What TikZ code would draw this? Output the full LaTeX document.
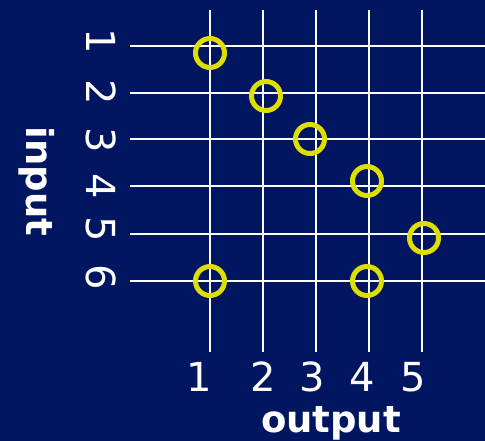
\documentclass[tikz,border=0pt]{standalone}
\usepackage{fontspec}
\setmainfont{DejaVu Sans}
\definecolor{bgnavy}{RGB}{0,22,96}
\definecolor{ringyellow}{RGB}{222,222,0}
\tikzset{
  gridline/.style={white, line width=2pt},
  ring/.style={circle, draw=ringyellow, line width=5pt, minimum size=29pt, inner sep=0pt},
  digit/.style={white, font=\fontsize{40}{40}\selectfont, inner sep=0pt},
  axislabel/.style={white, font=\fontsize{37}{37}\selectfont\bfseries, inner sep=0pt},
}
\begin{document}
\begin{tikzpicture}[x=1pt,y=-1pt]
\fill[bgnavy] (0,0) rectangle (485,441);
\useasboundingbox (0,0) rectangle (485,441);
% horizontal grid lines
\foreach \yy in {46.5,93,139.5,186.5,233.5,280.5}
  \draw[gridline] (130,\yy) -- (485,\yy);
% vertical grid lines
\foreach \xx in {209.5,263,316,369,422}
  \draw[gridline] (\xx,10) -- (\xx,352);
% rings
\node[ring] (c1) at (210,53) {};
\node[ring] (c2) at (266,96) {};
\node[ring] (c3) at (310,139) {};
\node[ring] (c4) at (367,181) {};
\node[ring] (c5) at (424,238) {};
\node[ring] (c6) at (210,281) {};
\node[ring] (c7) at (367,281) {};
% input numbers
\node[digit, rotate=-90] (i1) at (101,41) {1};
\node[digit, rotate=-90] (i2) at (101,92) {2};
\node[digit, rotate=-90] (i3) at (101,140) {3};
\node[digit, rotate=-90] (i4) at (101,186) {4};
\node[digit, rotate=-90] (i5) at (101,229) {5};
\node[digit, rotate=-90] (i6) at (101,277) {6};
% output numbers
\node[digit, anchor=base] (o1) at (199,391) {1};
\node[digit, anchor=base] (o2) at (263,391) {2};
\node[digit, anchor=base] (o3) at (312,391) {3};
\node[digit, anchor=base] (o4) at (362,391) {4};
\node[digit, anchor=base] (o5) at (413,391) {5};
% axis labels
\node[axislabel, rotate=-90, anchor=base] (inlab) at (26,181.5) {input};
\node[axislabel, anchor=base] (outlab) at (331,432) {output};
\end{tikzpicture}
\end{document}
